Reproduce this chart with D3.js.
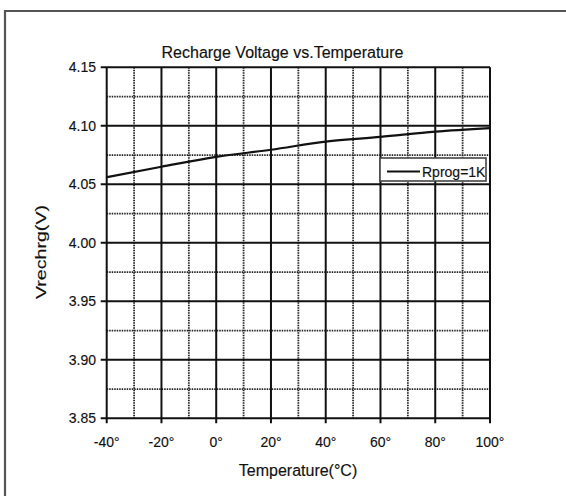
<!DOCTYPE html>
<html><head><meta charset="utf-8">
<script src="https://cdn.jsdelivr.net/npm/d3@7/dist/d3.min.js"></script>
<style>
html,body{margin:0;padding:0;background:#fff;}
text{font-family:"Liberation Sans",Arial,sans-serif;fill:#111;stroke:#111;stroke-width:0.15;}
</style></head><body>
<svg id="c" width="566" height="496"></svg>
<script>
const temps = [-40, -20, 0, 20, 40, 60, 80, 100];
const vrech = [4.056, 4.065, 4.0735, 4.0795, 4.0865, 4.0905, 4.095, 4.098];
const xTicks = [-40, -20, 0, 20, 40, 60, 80, 100];
const xTickLabels = ["-40°", "-20°", "0°", "20°", "40°", "60°", "80°", "100°"];
const xMinorGrid = [-30, -10, 10, 30, 50, 70, 90];
const yTicks = [3.85, 3.90, 3.95, 4.00, 4.05, 4.10, 4.15];
const yTickLabels = ["3.85", "3.90", "3.95", "4.00", "4.05", "4.10", "4.15"];
const yMinorGrid = [3.875, 3.925, 3.975, 4.025, 4.075, 4.125];
const title = "Recharge Voltage vs.Temperature";
const xTitle = "Temperature(°C)";
const yTitle = "Vrechrg(V)";
const seriesName = "Rprog=1K";

const svg = d3.select("#c");
const x = d3.scaleLinear().domain([-40, 100]).range([106.7, 490]);
const y = d3.scaleLinear().domain([3.85, 4.15]).range([418.3, 67.3]);

// outer frame
svg.append("path").attr("d", "M5,496 L5,11 L566,11").attr("fill", "none")
  .attr("stroke", "#555").attr("stroke-width", 2.2);

const g = svg.append("g");
// minor dashed grid
g.selectAll(".vmin").data(xMinorGrid).join("line")
  .attr("x1", d => x(d)).attr("x2", d => x(d)).attr("y1", y(4.15)).attr("y2", y(3.85))
  .attr("stroke", "#222").attr("stroke-width", 1.8).attr("stroke-dasharray", "1.5,1");
g.selectAll(".hmin").data(yMinorGrid).join("line")
  .attr("y1", d => y(d)).attr("y2", d => y(d)).attr("x1", x(-40)).attr("x2", x(100))
  .attr("stroke", "#222").attr("stroke-width", 1.8).attr("stroke-dasharray", "1.5,1");
// major solid grid
g.selectAll(".vmaj").data(xTicks).join("line")
  .attr("x1", d => x(d)).attr("x2", d => x(d)).attr("y1", y(4.15)).attr("y2", y(3.85) + 5)
  .attr("stroke", "#111").attr("stroke-width", 2);
g.selectAll(".hmaj").data(yTicks).join("line")
  .attr("y1", d => y(d)).attr("y2", d => y(d)).attr("x1", x(-40) - 6).attr("x2", x(100))
  .attr("stroke", "#111").attr("stroke-width", 2);

// tick labels
g.selectAll(".yl").data(yTicks).join("text")
  .attr("x", 96).attr("y", d => y(d) + 5).attr("text-anchor", "end")
  .attr("font-size", 14).text((d, i) => yTickLabels[i]);
g.selectAll(".xl").data(xTicks).join("text")
  .attr("x", d => x(d)).attr("y", 447).attr("text-anchor", "middle")
  .attr("font-size", 14).text((d, i) => xTickLabels[i]);

// data line
const line = d3.line().x(d => x(d[0])).y(d => y(d[1])).curve(d3.curveMonotoneX);
g.append("path").datum(temps.map((t, i) => [t, vrech[i]])).attr("d", line)
  .attr("fill", "none").attr("stroke", "#111").attr("stroke-width", 2.2);

// titles
svg.append("text").attr("x", 282.5).attr("y", 58).attr("text-anchor", "middle")
  .attr("font-size", 16).text(title);
svg.append("text").attr("x", 298).attr("y", 476).attr("text-anchor", "middle")
  .attr("font-size", 16).text(xTitle);
svg.append("text").attr("transform", "translate(46,252) rotate(-90)").attr("text-anchor", "middle")
  .attr("font-size", 14).attr("textLength", 94).attr("lengthAdjust", "spacingAndGlyphs").text(yTitle);

// legend
const lg = svg.append("g");
lg.append("clipPath").attr("id", "lgclip").append("rect")
  .attr("x", 380).attr("y", 158).attr("width", 105).attr("height", 23);
lg.append("rect").attr("x", 380).attr("y", 158).attr("width", 106).attr("height", 23)
  .attr("fill", "#fff").attr("stroke", "#444").attr("stroke-width", 1.6);
lg.append("line").attr("x1", 387).attr("x2", 420).attr("y1", 171.5).attr("y2", 171.5)
  .attr("stroke", "#111").attr("stroke-width", 2);
lg.append("text").attr("x", 422).attr("y", 176.5).attr("font-size", 14)
  .attr("clip-path", "url(#lgclip)").text(seriesName);
</script></body></html>
